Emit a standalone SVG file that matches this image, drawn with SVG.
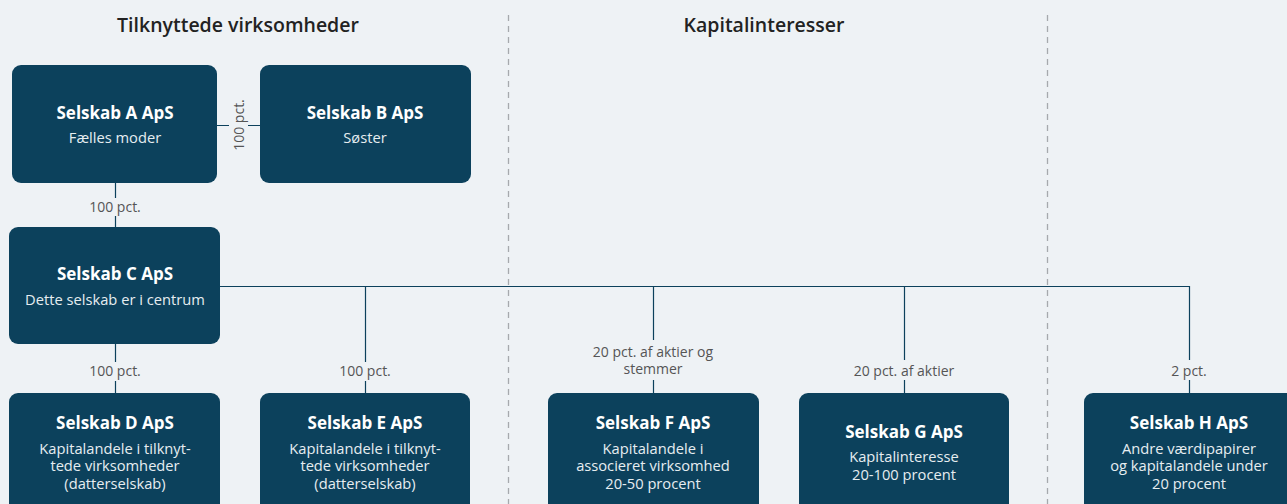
<svg xmlns="http://www.w3.org/2000/svg" width="1287" height="504" viewBox="0 0 1287 504">
<style>
.bg{fill:#eef2f5}
.box{fill:#0c415c}
.t{font-family:"Open Sans","Liberation Sans",sans-serif;font-size:17px;font-weight:700;fill:#ffffff;text-anchor:middle}
.s{font-family:"Open Sans","Liberation Sans",sans-serif;font-size:14.7px;fill:#e6edf1;text-anchor:middle}
.h{font-family:"Open Sans","Liberation Sans",sans-serif;font-size:19.5px;font-weight:600;fill:#222222;text-anchor:middle}
.l{font-family:"Open Sans","Liberation Sans",sans-serif;font-size:14px;fill:#555555;text-anchor:middle}
.c{stroke:#0c415c;stroke-width:1.2;fill:none}
.d{stroke:#a6a9ad;stroke-width:1.3;stroke-dasharray:6,5;fill:none}
</style>
<rect class="bg" x="0" y="0" width="1287" height="504"/>
<g id="dividers">
<line class="d" x1="508.5" y1="15" x2="508.5" y2="504"/>
<line class="d" x1="1047.5" y1="15" x2="1047.5" y2="504"/>
</g>
<g id="headers">
<text class="h" x="238" y="32">Tilknyttede virksomheder</text>
<text class="h" x="764" y="32">Kapitalinteresser</text>
</g>
<g id="connectors">
<path class="c" d="M217 125.5H229M248 125.5H260"/>
<path class="c" d="M115.5 183V198M115.5 216V227"/>
<path class="c" d="M220 286.5H1189.5V360M1189.5 380V393"/>
<path class="c" d="M115.5 344V362M115.5 381V393"/>
<path class="c" d="M365.5 286V362M365.5 381V393"/>
<path class="c" d="M653.5 286V340M653.5 380V393"/>
<path class="c" d="M904.5 286V360M904.5 380V393"/>
<text class="l" transform="translate(243.5,125) rotate(-90)" x="0" y="0">100 pct.</text>
<text class="l" x="115" y="212">100 pct.</text>
<text class="l" x="115" y="376">100 pct.</text>
<text class="l" x="365" y="376">100 pct.</text>
<text class="l" x="653" y="357">20 pct. af aktier og</text>
<text class="l" x="653" y="374">stemmer</text>
<text class="l" x="904" y="376">20 pct. af aktier</text>
<text class="l" x="1189" y="376">2 pct.</text>
</g>
<g id="nodeA">
<rect class="box" x="12" y="65" width="205" height="118" rx="9"/>
<text class="t" x="115" y="119">Selskab A ApS</text>
<text class="s" x="115" y="143">Fælles moder</text>
</g>
<g id="nodeB">
<rect class="box" x="260" y="65" width="211" height="118" rx="9"/>
<text class="t" x="365" y="119">Selskab B ApS</text>
<text class="s" x="365" y="143">Søster</text>
</g>
<g id="nodeC">
<rect class="box" x="9" y="227" width="211" height="117" rx="9"/>
<text class="t" x="115" y="280">Selskab C ApS</text>
<text class="s" x="115" y="305">Dette selskab er i centrum</text>
</g>
<g id="nodeD">
<rect class="box" x="9" y="393" width="211" height="125" rx="9"/>
<text class="t" x="115" y="429">Selskab D ApS</text>
<text class="s" x="115" y="454">Kapitalandele i tilknyt-</text>
<text class="s" x="115" y="471">tede virksomheder</text>
<text class="s" x="115" y="489">(datterselskab)</text>
</g>
<g id="nodeE">
<rect class="box" x="260" y="393" width="210" height="125" rx="9"/>
<text class="t" x="365" y="429">Selskab E ApS</text>
<text class="s" x="365" y="454">Kapitalandele i tilknyt-</text>
<text class="s" x="365" y="471">tede virksomheder</text>
<text class="s" x="365" y="489">(datterselskab)</text>
</g>
<g id="nodeF">
<rect class="box" x="548" y="393" width="211" height="125" rx="9"/>
<text class="t" x="653" y="429">Selskab F ApS</text>
<text class="s" x="653" y="454">Kapitalandele i</text>
<text class="s" x="653" y="471">associeret virksomhed</text>
<text class="s" x="653" y="489">20-50 procent</text>
</g>
<g id="nodeG">
<rect class="box" x="799" y="393" width="210" height="125" rx="9"/>
<text class="t" x="904" y="438">Selskab G ApS</text>
<text class="s" x="904" y="462">Kapitalinteresse</text>
<text class="s" x="904" y="480">20-100 procent</text>
</g>
<g id="nodeH">
<rect class="box" x="1084" y="393" width="215" height="125" rx="9"/>
<text class="t" x="1189" y="429">Selskab H ApS</text>
<text class="s" x="1189" y="454">Andre værdipapirer</text>
<text class="s" x="1189" y="471">og kapitalandele under</text>
<text class="s" x="1189" y="489">20 procent</text>
</g>
</svg>
